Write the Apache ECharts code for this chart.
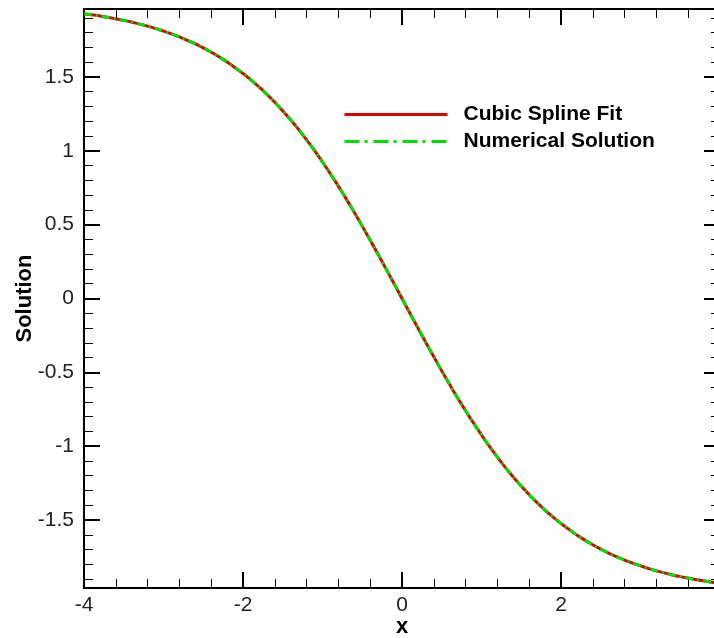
<!DOCTYPE html>
<html>
<head>
<meta charset="utf-8">
<script src="https://cdn.jsdelivr.net/npm/echarts@6/dist/echarts.min.js"></script>
<style>
  html, body { margin: 0; padding: 0; background: #ffffff; }
  #chart { width: 714px; height: 638px; }
</style>
</head>
<body>
<div id="chart"></div>
<script>
// Sample positions along x (step 0.125)
const xValues = [
  -4, -3.875, -3.75, -3.625, -3.5, -3.375, -3.25, -3.125,
  -3, -2.875, -2.75, -2.625, -2.5, -2.375, -2.25, -2.125,
  -2, -1.875, -1.75, -1.625, -1.5, -1.375, -1.25, -1.125,
  -1, -0.875, -0.75, -0.625, -0.5, -0.375, -0.25, -0.125,
  0, 0.125, 0.25, 0.375, 0.5, 0.625, 0.75, 0.875,
  1, 1.125, 1.25, 1.375, 1.5, 1.625, 1.75, 1.875,
  2, 2.125, 2.25, 2.375, 2.5, 2.625, 2.75, 2.875,
  3, 3.125, 3.25, 3.375, 3.5, 3.625, 3.75, 3.875, 4
];

// Cubic spline fit values
const splineFit = [
  1.928, 1.919, 1.908, 1.896, 1.883, 1.868, 1.851, 1.832,
  1.810, 1.787, 1.760, 1.730, 1.697, 1.660, 1.619, 1.573,
  1.523, 1.469, 1.408, 1.342, 1.270, 1.193, 1.109, 1.020,
  0.924, 0.823, 0.717, 0.606, 0.490, 0.371, 0.249, 0.125,
  0, -0.125, -0.249, -0.371, -0.490, -0.606, -0.717, -0.823,
  -0.924, -1.020, -1.109, -1.193, -1.270, -1.342, -1.408, -1.469,
  -1.523, -1.573, -1.619, -1.660, -1.697, -1.730, -1.760, -1.787,
  -1.810, -1.832, -1.851, -1.868, -1.883, -1.896, -1.908, -1.919, -1.928
];

// Numerical solution values
const numerical = [
  1.928, 1.919, 1.908, 1.896, 1.883, 1.868, 1.851, 1.832,
  1.810, 1.787, 1.760, 1.730, 1.697, 1.660, 1.619, 1.573,
  1.523, 1.469, 1.408, 1.342, 1.270, 1.193, 1.109, 1.020,
  0.924, 0.823, 0.717, 0.606, 0.490, 0.371, 0.249, 0.125,
  0, -0.125, -0.249, -0.371, -0.490, -0.606, -0.717, -0.823,
  -0.924, -1.020, -1.109, -1.193, -1.270, -1.342, -1.408, -1.469,
  -1.523, -1.573, -1.619, -1.660, -1.697, -1.730, -1.760, -1.787,
  -1.810, -1.832, -1.851, -1.868, -1.883, -1.896, -1.908, -1.919, -1.928
];

const seriesNames = ['Cubic Spline Fit', 'Numerical Solution'];
const xRange = [-4, 4];
const yRange = [-1.96, 1.96];

const FONT = "'Liberation Sans', Arial, sans-serif";
const BLACK = '#000000';

const frameLine = { show: true, onZero: false, lineStyle: { color: BLACK, width: 2 } };
const majorTick = { show: true, inside: true, length: 16, lineStyle: { color: BLACK, width: 2 } };
const minorTick = { show: true, splitNumber: 5, length: 9, lineStyle: { color: BLACK, width: 1 } };
const tickLabel = { fontFamily: FONT, fontSize: 21, color: '#222222' };
const titleText = { fontFamily: FONT, fontSize: 22, fontWeight: 'bold', color: BLACK };

function halfStepLabel(v) {
  return Math.abs(v * 2 - Math.round(v * 2)) < 1e-6 ? String(v) : '';
}

const chart = echarts.init(document.getElementById('chart'), null, { renderer: 'canvas' });

chart.setOption({
  animation: false,
  backgroundColor: '#ffffff',
  grid: { left: 84, top: 9, bottom: 50, right: -6, containLabel: false, outerBoundsMode: 'none' },
  legend: {
    orient: 'vertical',
    left: 343,
    top: 104,
    padding: 0,
    itemWidth: 103,
    itemHeight: 14,
    itemGap: 6,
    textStyle: { fontFamily: FONT, fontSize: 21, fontWeight: 'bold', color: BLACK, padding: [0, 0, 0, 11] },
    data: [
      { name: seriesNames[0], itemStyle: { opacity: 0 }, lineStyle: { type: 'solid', width: 3 } },
      { name: seriesNames[1], itemStyle: { opacity: 0 }, lineStyle: { type: [15, 5, 3, 6], width: 3 } }
    ]
  },
  xAxis: [
    {
      type: 'value', position: 'bottom', min: xRange[0], max: xRange[1], splitNumber: 4,
      axisLine: frameLine, axisTick: majorTick, minorTick: minorTick,
      splitLine: { show: false }, minorSplitLine: { show: false },
      axisLabel: Object.assign({ margin: 7 }, tickLabel),
      name: 'x', nameLocation: 'middle', nameGap: 28, nameMoveOverlap: false,
      nameTextStyle: titleText
    },
    {
      type: 'value', position: 'top', min: xRange[0], max: xRange[1], splitNumber: 4,
      axisLine: frameLine, axisTick: majorTick, minorTick: minorTick,
      splitLine: { show: false }, axisLabel: { show: false }
    }
  ],
  yAxis: [
    {
      type: 'value', position: 'left', min: yRange[0], max: yRange[1], splitNumber: 8,
      axisLine: frameLine, axisTick: majorTick, minorTick: minorTick,
      splitLine: { show: false }, minorSplitLine: { show: false },
      axisLabel: Object.assign({ margin: 10, formatter: halfStepLabel }, tickLabel),
      name: 'Solution', nameLocation: 'middle', nameGap: 48, nameRotate: 90, nameMoveOverlap: false,
      nameTextStyle: titleText
    },
    {
      type: 'value', position: 'right', min: yRange[0], max: yRange[1], splitNumber: 8,
      axisLine: frameLine, axisTick: majorTick, minorTick: minorTick,
      splitLine: { show: false }, axisLabel: { show: false }
    }
  ],
  series: [
    {
      name: seriesNames[0], type: 'line', smooth: 0.5,
      symbol: 'none', z: 2,
      itemStyle: { color: '#dd0000' },
      lineStyle: { color: '#dd0000', width: 3 },
      data: xValues.map((x, i) => [x, splineFit[i]])
    },
    {
      name: seriesNames[1], type: 'line', smooth: 0.5,
      symbol: 'none', z: 3,
      itemStyle: { color: '#00dd00' },
      lineStyle: { color: '#00dd00', width: 3, type: [8, 4, 2, 4] },
      data: xValues.map((x, i) => [x, numerical[i]])
    }
  ]
});
</script>
</body>
</html>
